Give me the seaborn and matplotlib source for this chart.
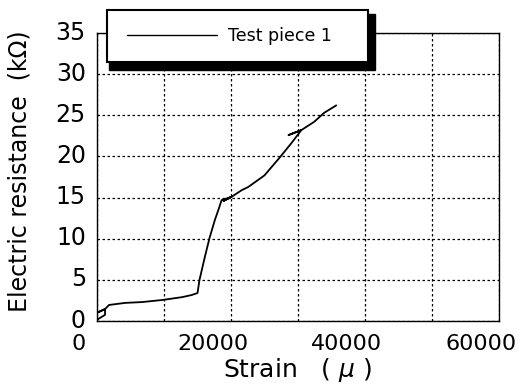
import matplotlib
matplotlib.use("Agg")
import matplotlib.pyplot as plt
import matplotlib.transforms as mtransforms
from matplotlib.patches import Rectangle
import seaborn as sns
import pandas as pd

# ---- data ----
strain = [0, 1200, 1200, 0, 1200, 1800, 4200, 6700, 9700, 12700, 14100, 15000,
          15300, 16100, 16800, 17600, 18200, 18600, 19400, 20100, 18900, 20100,
          21600, 22600, 25000, 27200, 29000, 30500, 28600, 30500, 32400, 33900, 35700]
resistance = [0.15, 0.75, 1.45, 1.0, 1.45, 1.95, 2.2, 2.3, 2.55, 2.9, 3.15, 3.4,
              5.0, 7.8, 10.1, 12.3, 13.7, 14.7, 14.9, 15.1, 14.6, 15.1,
              15.9, 16.3, 17.7, 19.8, 21.6, 23.2, 22.6, 23.2, 24.2, 25.3, 26.2]
series_name = "Test piece 1"
x_ticks = [0, 10000, 20000, 30000, 40000, 50000, 60000]
x_tick_labels = ["0", "", "20000", "", "40000", "", "60000"]
y_ticks = [0, 5, 10, 15, 20, 25, 30, 35]
y_tick_labels = ["0", "5", "10", "15", "20", "25", "30", "35"]

df = pd.DataFrame({"strain": strain, "resistance": resistance})

sns.set_style("white")
plt.rcParams["font.family"] = ["DejaVu Sans", "Noto Sans CJK JP"]
plt.rcParams["text.color"] = "black"
plt.rcParams["axes.labelcolor"] = "black"

W, H, DPI = 521, 387, 100
fig = plt.figure(figsize=(W / DPI, H / DPI), dpi=DPI)
ax = fig.add_axes([97 / W, 1 - 321 / H, (499 - 97) / W, (321 - 33) / H])

sns.lineplot(data=df, x="strain", y="resistance", sort=False, estimator=None,
             color="black", linewidth=1.3, ax=ax, label=series_name)
if ax.get_legend() is not None:
    ax.get_legend().remove()

ax.set_xlim(0, 60000)
ax.set_ylim(0, 35)
ax.set_xticks(x_ticks)
ax.set_xticklabels(x_tick_labels)
ax.set_yticks(y_ticks)
ax.set_yticklabels(y_tick_labels)

ax.grid(True, color="black", linestyle=(0, (2, 2)), linewidth=0.9)
for s in ax.spines.values():
    s.set_visible(True)
    s.set_color("black")
    s.set_linewidth(1.0)

ax.tick_params(axis="x", direction="in", length=6, width=1, labelsize=16, pad=9, colors="black")
ax.tick_params(axis="y", direction="in", length=10, width=1, labelsize=17, pad=8, colors="black")

# shift tick labels like the reference
xoff = mtransforms.ScaledTranslation(-18 / DPI, 0, fig.dpi_scale_trans)
for lab in ax.get_xticklabels():
    lab.set_transform(lab.get_transform() + xoff)
yoff = mtransforms.ScaledTranslation(0, 3 / DPI, fig.dpi_scale_trans)
for lab in ax.get_yticklabels():
    lab.set_transform(lab.get_transform() + yoff)

ax.set_xlabel("Strain   ( $\\mu$ )", fontsize=18)
ax.set_ylabel("Electric resistance  (kΩ)", fontsize=17)
ax.xaxis.set_label_coords(0.5, -0.12)
ax.yaxis.set_label_coords(-0.162, 0.52)

# legend frame with heavy drop shadow
def fx(px):
    return px / W

def fy(py):
    return 1 - py / H

shadow = Rectangle((fx(109), fy(70)), fx(375) - fx(109), fy(14) - fy(70),
                   transform=fig.transFigure, facecolor="black", edgecolor="black",
                   zorder=4)
frame = Rectangle((fx(107), fy(62)), fx(368) - fx(107), fy(10) - fy(62),
                  transform=fig.transFigure, facecolor="white", edgecolor="black",
                  linewidth=1.5, zorder=4.5)
fig.patches.extend([shadow, frame])

handles, labels = ax.get_legend_handles_labels()
leg = fig.legend(handles, labels, loc="center left",
                 bbox_to_anchor=(fx(127), fy(36)), frameon=False,
                 borderpad=0, borderaxespad=0, handlelength=5.2,
                 handletextpad=0.6, fontsize=12.5)
leg.set_zorder(6)
for line in leg.get_lines():
    line.set_linewidth(1.0)

fig.savefig("out.png", dpi=DPI)
